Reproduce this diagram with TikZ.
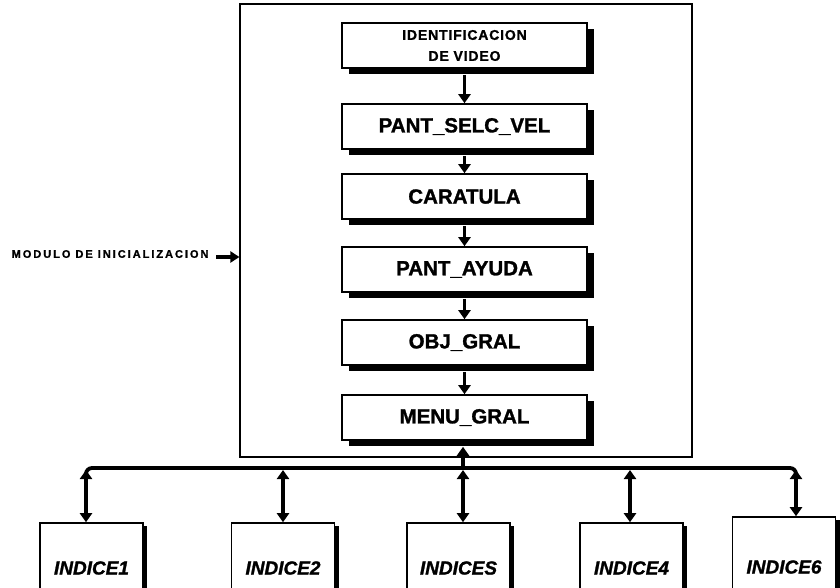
\documentclass[tikz,border=0pt]{standalone}
\usepackage{fontspec}
\setmainfont{Liberation Sans}
\newfontfamily\heavy[BoldFeatures={FakeBold=1.3},BoldItalicFeatures={FakeBold=1.3}]{Liberation Sans}
\usetikzlibrary{arrows.meta,shadows}
\begin{document}
\begin{tikzpicture}[x=1pt,y=-1pt,
  stagebox/.style={draw, line width=1.6pt, fill=white, minimum width=245pt, minimum height=45pt,
    inner sep=0pt, align=center, font=\heavy\bfseries\fontsize{20.5}{22}\selectfont,
    drop shadow={shadow xshift=7pt, shadow yshift=-6pt, fill=black, opacity=1}},
  idxbox/.style={draw, line width=1.6pt, fill=white, minimum width=103pt, minimum height=90pt,
    inner sep=0pt, font=\heavy\bfseries\itshape\fontsize{19}{21}\selectfont,
    drop shadow={shadow xshift=4pt, shadow yshift=-3pt, fill=black, opacity=1}},
  conn/.style={line width=3.8pt, -{Triangle[length=9pt,width=12pt]}},
  dconn/.style={line width=3.8pt, {Triangle[length=9pt,width=12pt]}-{Triangle[length=9pt,width=12pt]}},
  outer/.style={draw, line width=1.2pt, minimum width=452pt, minimum height=453pt, inner sep=0pt}
]
\useasboundingbox (0,0) rectangle (840,587);
\clip (0,0) rectangle (840,587);

\node[outer] (mod) at (466,230.5) {};

\node[stagebox] (vid) at (464.5,45.5) {\fontsize{14}{15}\selectfont\addfontfeature{LetterSpace=6}IDENTIFICACION\\[-1pt]\fontsize{14}{15}\selectfont\addfontfeature{LetterSpace=6}DE VIDEO};
\node[stagebox] (sel) at (464.5,126.5) {PANT\_SELC\_VEL};
\node[stagebox] (car) at (464.5,196.5) {CARATULA};
\node[stagebox] (ayu) at (464.5,269.5) {PANT\_AYUDA};
\node[stagebox] (obj) at (464.5,342.5) {OBJ\_GRAL};
\node[stagebox] (men) at (464.5,417.5) {MENU\_GRAL};

\draw[conn] ([yshift=-6pt]vid.south) -- (sel.north);
\draw[conn] ([yshift=-6pt]sel.south) -- (car.north);
\draw[conn] ([yshift=-6pt]car.south) -- (ayu.north);
\draw[conn] ([yshift=-6pt]ayu.south) -- (obj.north);
\draw[conn] ([yshift=-6pt]obj.south) -- (men.north);

\node[anchor=east, font=\heavy\bfseries\fontsize{11}{12}\selectfont\addfontfeature{LetterSpace=18}] (lbl) at (212,254) {MODULO DE INICIALIZACION};
\draw[line width=4pt, -{Triangle[length=9pt,width=11pt]}] ([xshift=4pt,yshift=-3pt]lbl.east) -- ([yshift=-3pt]lbl.east -| mod.west);

\node[idxbox] (i1) at (91.5,568) {INDICE1};
\node[idxbox] (i2) at (283,568) {INDICE2};
\node[idxbox] (i3) at (458.5,568) {INDICES};
\node[idxbox] (i4) at (631.5,568) {INDICE4};
\node[idxbox, minimum height=100pt] (i5) at (784,567) {INDICE6};

\coordinate (b1) at (86,468);
\coordinate (b2) at (283,468);
\coordinate (b3) at (463,468);
\coordinate (b4) at (630,468);
\coordinate (b5) at (796,468);

\draw[line width=3.8pt, rounded corners=6pt] ([yshift=-8pt]b1) -- (b1) -- (b5) -- ([yshift=-8pt]b5);
\draw[dconn] ([yshift=-2pt]b1) -- (b1 |- i1.north);
\draw[dconn] ([yshift=-2pt]b2) -- (b2 |- i2.north);
\draw[dconn] ([yshift=-2pt]b3) -- (b3 |- i3.north);
\draw[dconn] ([yshift=-2pt]b4) -- (b4 |- i4.north);
\draw[dconn] ([yshift=-2pt]b5) -- (b5 |- i5.north);
\draw[line width=3.8pt, {Triangle[length=9pt,width=12pt]}-] ([yshift=-6pt]men.south -| b3) -- (b3);
\end{tikzpicture}
\end{document}
